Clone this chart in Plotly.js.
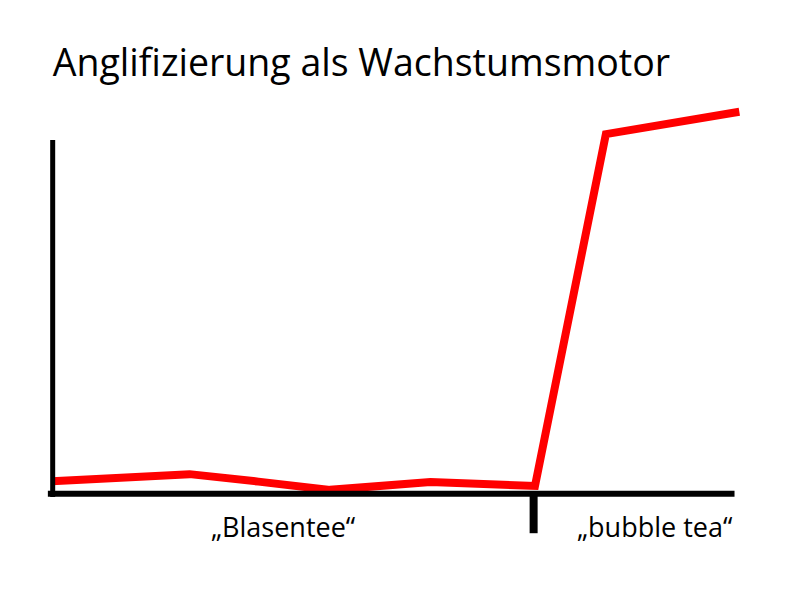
<!DOCTYPE html>
<html>
<head>
<meta charset="utf-8">
<script src="https://cdn.plot.ly/plotly-3.0.1.min.js"></script>
<style>html,body{margin:0;padding:0;background:#fff}</style>
</head>
<body>
<div id="chart" style="width:800px;height:600px"></div>
<script>
// Data (arbitrary units)
const xValues = [0, 10, 20, 30, 40.4, 55, 70.2, 80.5, 99.9];
const yValues = [3.0, 3.8, 4.8, 2.9, 0.8, 2.8, 1.8, 91.3, 97.0];
const tickPositions = [33.6, 87.6];
const tickLabels = ["\u201EBlasentee\u201C", "\u201Ebubble tea\u201C"];
const boundaryX = 70;
const titleText = "Anglifizierung als Wachstumsmotor";

const trace = {
  x: xValues, y: yValues, type: 'scatter', mode: 'lines',
  line: {color: '#ff0000', width: 8, shape: 'linear'},
  hoverinfo: 'skip', cliponaxis: false
};

const layout = {
  width: 800, height: 600,
  margin: {l: 45, r: 50, t: 90, b: 100},
  paper_bgcolor: '#ffffff', plot_bgcolor: '#ffffff',
  showlegend: false,
  title: {text: titleText, x: 0.066, xref: 'container', xanchor: 'left', y: 0.895, yref: 'container', yanchor: 'middle',
          font: {family: 'Open Sans', size: 37.5, color: '#000'}},
  xaxis: {range: [-1.017, 101.45], showgrid: false, zeroline: false, showline: false,
          tickvals: tickPositions, ticktext: tickLabels, ticks: '',
          tickfont: {family: 'Open Sans', size: 27, color: '#000'}, ticklabelstandoff: 9},
  yaxis: {range: [-1.78, 102.54], showgrid: false, zeroline: false, showline: false, showticklabels: false, ticks: ''},
  shapes: [
    {type: 'line', xref: 'x', yref: 'y', x0: 0.1, x1: 0.1, y0: -1.0, y1: 89.8, line: {color: '#000', width: 5}},
    {type: 'line', xref: 'x', yref: 'y', x0: -0.6, x1: 99.2, y0: -0.2, y1: -0.2, line: {color: '#000', width: 6}},
    {type: 'line', xref: 'x', yref: 'paper', x0: boundaryX, x1: boundaryX, y0: 0.015, y1: -0.081, line: {color: '#000', width: 8}}
  ]
};

Plotly.newPlot('chart', [trace], layout, {staticPlot: true, displayModeBar: false});
</script>
</body>
</html>
